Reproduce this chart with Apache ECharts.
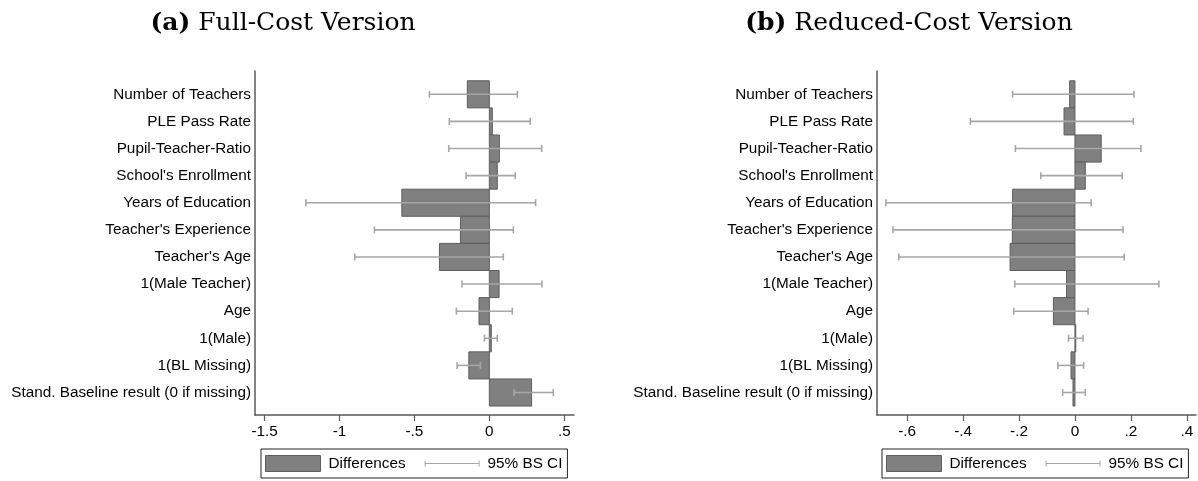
<!DOCTYPE html>
<html>
<head>
<meta charset="utf-8">
<script src="https://cdn.jsdelivr.net/npm/echarts@6/dist/echarts.min.js"></script>
<style>html,body{margin:0;padding:0;background:#fff;}#c{width:1198px;height:481px;}</style>
</head>
<body>
<div id="c"></div>
<script>
const categories = ["Number of Teachers","PLE Pass Rate","Pupil-Teacher-Ratio","School's Enrollment","Years of Education","Teacher's Experience","Teacher's Age","1(Male Teacher)","Age","1(Male)","1(BL Missing)","Stand. Baseline result (0 if missing)"];

const fullDiff = [-0.147, 0.020, 0.067, 0.053, -0.584, -0.193, -0.333, 0.065, -0.069, 0.013, -0.137, 0.282];
const fullLo   = [-0.400, -0.267, -0.271, -0.155, -1.224, -0.767, -0.898, -0.182, -0.220, -0.033, -0.215, 0.165];
const fullHi   = [0.187, 0.273, 0.349, 0.173, 0.309, 0.160, 0.093, 0.351, 0.153, 0.053, -0.060, 0.427];

const redDiff = [-0.019, -0.039, 0.094, 0.037, -0.223, -0.224, -0.232, -0.030, -0.077, 0.003, -0.014, -0.007];
const redLo   = [-0.223, -0.374, -0.213, -0.122, -0.676, -0.651, -0.630, -0.215, -0.219, -0.023, -0.061, -0.044];
const redHi   = [0.211, 0.209, 0.236, 0.169, 0.058, 0.172, 0.176, 0.300, 0.047, 0.029, 0.031, 0.037];

const fullTicks = [-1.5, -1, -0.5, 0, 0.5];
const redTicks = [-0.6, -0.4, -0.2, 0, 0.2, 0.4];
const titleA = ["(a)", "Full-Cost Version"];
const titleB = ["(b)", "Reduced-Cost Version"];
const legendNames = ["Differences", "95% BS CI"];

const SANS = "'Liberation Sans', Arial, sans-serif";
const FS = 15.3;
const AXIS_COLOR = '#5a5a5a';
const BAR_FILL = '#808080';
const BAR_EDGE = '#5e5e5e';
const CI_COLOR = '#a6a6a6';

function fmtTick(v){
  let s = String(Math.round(v*10)/10);
  return s.replace(/^(-?)0\./, '$1.');
}

const rowIdx = categories.map((_, i) => i);

function barRender(params, api){
  const i = api.value(0), v = api.value(1);
  const p0 = api.coord([0, i]);
  const p1 = api.coord([v, i]);
  const h = api.size([0, 1])[1];
  const x = Math.min(p0[0], p1[0]);
  return {
    type: 'rect',
    shape: {x: x, y: p0[1] - h/2, width: Math.max(Math.abs(p1[0]-p0[0]), 0.8), height: h},
    style: {fill: BAR_FILL, stroke: BAR_EDGE, lineWidth: 1}
  };
}
function ciRender(params, api){
  const i = api.value(0), lo = api.value(1), hi = api.value(2);
  const a = api.coord([lo, i]);
  const b = api.coord([hi, i]);
  const c = 3.5;
  const st = {stroke: CI_COLOR, lineWidth: 1.6, fill: null};
  return {
    type: 'group',
    children: [
      {type:'line', shape:{x1:a[0], y1:a[1], x2:b[0], y2:b[1]}, style: st},
      {type:'line', shape:{x1:a[0], y1:a[1]-c, x2:a[0], y2:a[1]+c}, style: st},
      {type:'line', shape:{x1:b[0], y1:b[1]-c, x2:b[0], y2:b[1]+c}, style: st}
    ]
  };
}

function xAxis(gi, min, max, ticks){
  return {
    type: 'value', gridIndex: gi, min: min, max: max,
    axisLine: {show: true, onZero: false, lineStyle: {color: AXIS_COLOR, width: 1.5}},
    axisTick: {show: true, length: 6, customValues: ticks, lineStyle: {color: AXIS_COLOR, width: 1.2}},
    axisLabel: {show: true, customValues: ticks, formatter: fmtTick, color: '#000', fontSize: FS, fontFamily: SANS, margin: 9},
    splitLine: {show: false}
  };
}
function yAxis(gi){
  return {
    type: 'value', gridIndex: gi, min: -0.86, max: 11.83, inverse: true,
    axisLine: {show: true, onZero: false, lineStyle: {color: AXIS_COLOR, width: 1.5}},
    axisTick: {show: false},
    axisLabel: {show: true, customValues: rowIdx, formatter: v => categories[Math.round(v)], color: '#000', fontSize: FS, fontFamily: SANS, margin: 4},
    splitLine: {show: false}
  };
}

const ciIcon = 'path://M0,0h0.01v0.01h-0.01z M54.99,15.99h0.01v0.01h-0.01z M0,5h1v6h-1z M0,7.5h55v1h-55z M54,5h1v6h-1z';

function legend(left){
  return {
    left: left, top: 449, orient: 'horizontal',
    selectedMode: false,
    padding: [6, 5, 6, 4],
    borderColor: '#222', borderWidth: 1, borderRadius: 0,
    itemWidth: 55, itemHeight: 16, itemGap: 19,
    textStyle: {color: '#000', fontSize: FS, fontFamily: SANS, padding: [0, 0, 0, 3]},
    data: [
      {name: legendNames[0], icon: 'rect', itemStyle: {color: BAR_FILL, borderColor: BAR_EDGE, borderWidth: 1}},
      {name: legendNames[1], icon: ciIcon, itemStyle: {color: CI_COLOR, borderWidth: 0}}
    ]
  };
}

function titleText(x, parts){
  return {
    type: 'text', x: x, y: 11,
    style: {
      text: '{b|' + parts[0] + '} {r|' + parts[1] + '}',
      textAlign: 'center', textVerticalAlign: 'top',
      rich: {
        b: {fontFamily: "'DejaVu Serif', serif", fontWeight: 'bold', fontSize: 25, fill: '#000'},
        r: {fontFamily: "'DejaVu Serif', serif", fontSize: 25, fill: '#000'}
      },
      fill: '#000', fontFamily: "'DejaVu Serif', serif", fontSize: 25
    }
  };
}

const chart = echarts.init(document.getElementById('c'), null, {renderer: 'canvas'});
chart.setOption({
  animation: false,
  backgroundColor: '#fff',
  grid: [
    {left: 255, top: 71, width: 319, height: 344},
    {left: 877, top: 71, width: 319, height: 344}
  ],
  xAxis: [xAxis(0, -1.564, 0.565, fullTicks), xAxis(1, -0.708, 0.433, redTicks)],
  yAxis: [yAxis(0), yAxis(1)],
  legend: [legend(261), legend(882)],
  graphic: [titleText(283, titleA), titleText(909, titleB)],
  series: [
    {name: legendNames[0], type: 'custom', xAxisIndex: 0, yAxisIndex: 0, renderItem: barRender,
     encode: {x: 1, y: 0}, itemStyle: {color: BAR_FILL}, data: rowIdx.map(i => [i, fullDiff[i]]), z: 2},
    {name: legendNames[1], type: 'custom', xAxisIndex: 0, yAxisIndex: 0, renderItem: ciRender,
     encode: {x: [1, 2], y: 0}, itemStyle: {color: CI_COLOR}, data: rowIdx.map(i => [i, fullLo[i], fullHi[i]]), z: 3},
    {name: legendNames[0], type: 'custom', xAxisIndex: 1, yAxisIndex: 1, renderItem: barRender,
     encode: {x: 1, y: 0}, itemStyle: {color: BAR_FILL}, data: rowIdx.map(i => [i, redDiff[i]]), z: 2},
    {name: legendNames[1], type: 'custom', xAxisIndex: 1, yAxisIndex: 1, renderItem: ciRender,
     encode: {x: [1, 2], y: 0}, itemStyle: {color: CI_COLOR}, data: rowIdx.map(i => [i, redLo[i], redHi[i]]), z: 3}
  ]
});
</script>
</body>
</html>
